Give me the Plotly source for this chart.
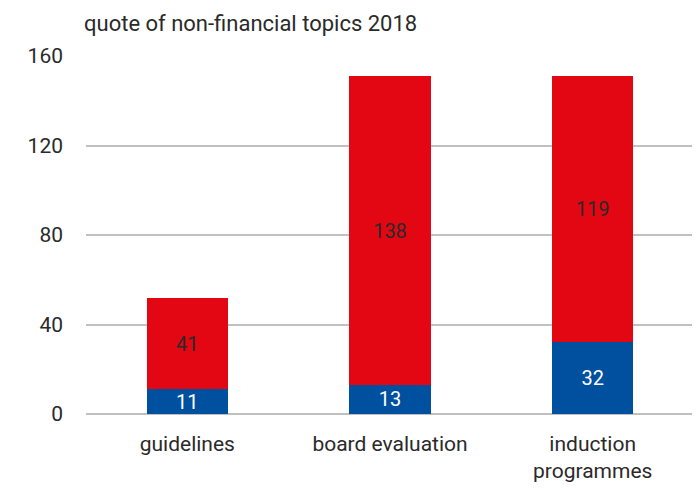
import plotly.graph_objects as go

categories = ["guidelines", "board evaluation", "induction<br>programmes"]
blue_values = [11, 13, 32]
red_values = [41, 138, 119]
y_ticks = [0, 40, 80, 120, 160]

FONT = "Roboto, sans-serif"
BLUE = "#0050a0"
RED = "#e30613"
TEXT = "#2a2a2a"

fig = go.Figure()
fig.add_trace(
    go.Bar(
        x=categories,
        y=blue_values,
        marker={"color": BLUE, "line": {"width": 0}},
        text=blue_values,
        textposition="inside",
        insidetextanchor="middle",
        textangle=0,
        textfont={"color": "white", "size": 20, "family": FONT},
        width=0.4,
    )
)
fig.add_trace(
    go.Bar(
        x=categories,
        y=red_values,
        marker={"color": RED, "line": {"width": 0}},
        text=red_values,
        textposition="inside",
        insidetextanchor="middle",
        textangle=0,
        textfont={"color": TEXT, "size": 20, "family": FONT},
        width=0.4,
    )
)

fig.update_layout(
    barmode="stack",
    width=692,
    height=481,
    showlegend=False,
    plot_bgcolor="white",
    paper_bgcolor="white",
    margin={"l": 78, "r": 6, "t": 48, "b": 64},
    font={"family": FONT, "size": 21, "color": TEXT},
    uniformtext={"mode": "show", "minsize": 20},
    annotations=[
        {
            "text": "quote of non-financial topics 2018",
            "xref": "paper",
            "yref": "paper",
            "x": -0.007,
            "y": 1.0,
            "yshift": 33,
            "xanchor": "left",
            "yanchor": "middle",
            "showarrow": False,
            "font": {"family": FONT, "size": 22, "color": TEXT},
        }
    ],
)
fig.update_yaxes(
    range=[0, 160],
    tickvals=y_ticks,
    showgrid=True,
    gridcolor="#c0c0c0",
    gridwidth=2,
    zeroline=True,
    zerolinecolor="#c0c0c0",
    zerolinewidth=2,
    ticks="",
    ticklabelstandoff=22,
    tickfont={"size": 21},
)
fig.update_xaxes(
    showline=False,
    ticks="",
    ticklabelstandoff=15,
    tickfont={"size": 21},
)

fig.write_html("out.html")
